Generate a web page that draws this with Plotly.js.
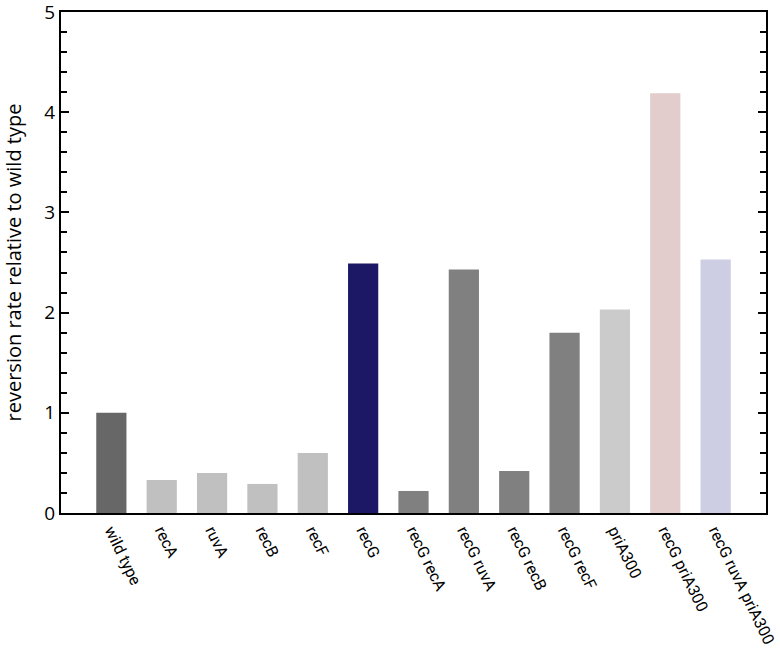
<!DOCTYPE html>
<html>
<head>
<meta charset="utf-8">
<script src="https://cdn.plot.ly/plotly-3.0.1.min.js"></script>
<style>
  html, body { margin: 0; padding: 0; background: #fff; }
  #chart { width: 780px; height: 650px; }
</style>
</head>
<body>
<div id="chart"></div>
<script>
// Reversion rate relative to wild type, per strain

const strains = ['wild type', 'recA', 'ruvA', 'recB', 'recF', 'recG', 'recG recA',
                 'recG ruvA', 'recG recB', 'recG recF', 'priA300', 'recG priA300',
                 'recG ruvA priA300'];
const rates = [1.00, 0.33, 0.40, 0.29, 0.60, 2.49, 0.22, 2.43, 0.42, 1.80, 2.03, 4.19, 2.53];
const barColors = ['#676767', '#c0c0c0', '#c0c0c0', '#c0c0c0', '#c0c0c0', '#1c1866',
                   '#808080', '#808080', '#808080', '#808080', '#cbcbcb', '#e2cccc', '#cdcde3'];

const FONT = { family: '"Open Sans", "Noto Sans", sans-serif', color: '#000' };
const LABEL_FONT = { family: 'Roboto, "Open Sans", sans-serif', color: '#000' };

const trace = {
    type: 'bar',
    x: strains.map((_, i) => i),
    y: rates,
    width: 0.6,
    marker: { color: barColors, line: { width: 0 } },
    hoverinfo: 'skip',
};

const layout = {
    width: 780,
    height: 650,
    paper_bgcolor: '#fff',
    plot_bgcolor: '#fff',
    font: { ...FONT, size: 18 },
    margin: { l: 61, r: 14, t: 12, b: 137 },
    showlegend: false,
    xaxis: {
        range: [-1, 13],
        tickmode: 'array',
        tickvals: strains.map((_, i) => i),
        ticktext: strains,
        tickangle: 64,
        ticks: '',
        ticklabeloverflow: 'allow',
        showgrid: false,
        zeroline: false,
        showline: true,
        linecolor: '#000',
        linewidth: 2,
        mirror: true,
        tickfont: { ...LABEL_FONT, size: 16 },
    },
    yaxis: {
        range: [0, 5],
        dtick: 1,
        ticks: 'inside',
        ticklen: 8,
        tickwidth: 2,
        tickcolor: '#000',
        ticklabeloverflow: 'allow',
        showgrid: false,
        zeroline: false,
        showline: true,
        linecolor: '#000',
        linewidth: 2,
        mirror: 'ticks',
        tickfont: { ...FONT, size: 19 },
        minor: { dtick: 0.2, ticks: 'inside', ticklen: 6, tickwidth: 2, tickcolor: '#000', showgrid: false },
        title: { text: 'reversion rate relative to wild type', font: { ...FONT, size: 20 }, standoff: 18 },
    },
};

Plotly.newPlot('chart', [trace], layout, { displayModeBar: false, staticPlot: true });
</script>
</body>
</html>
